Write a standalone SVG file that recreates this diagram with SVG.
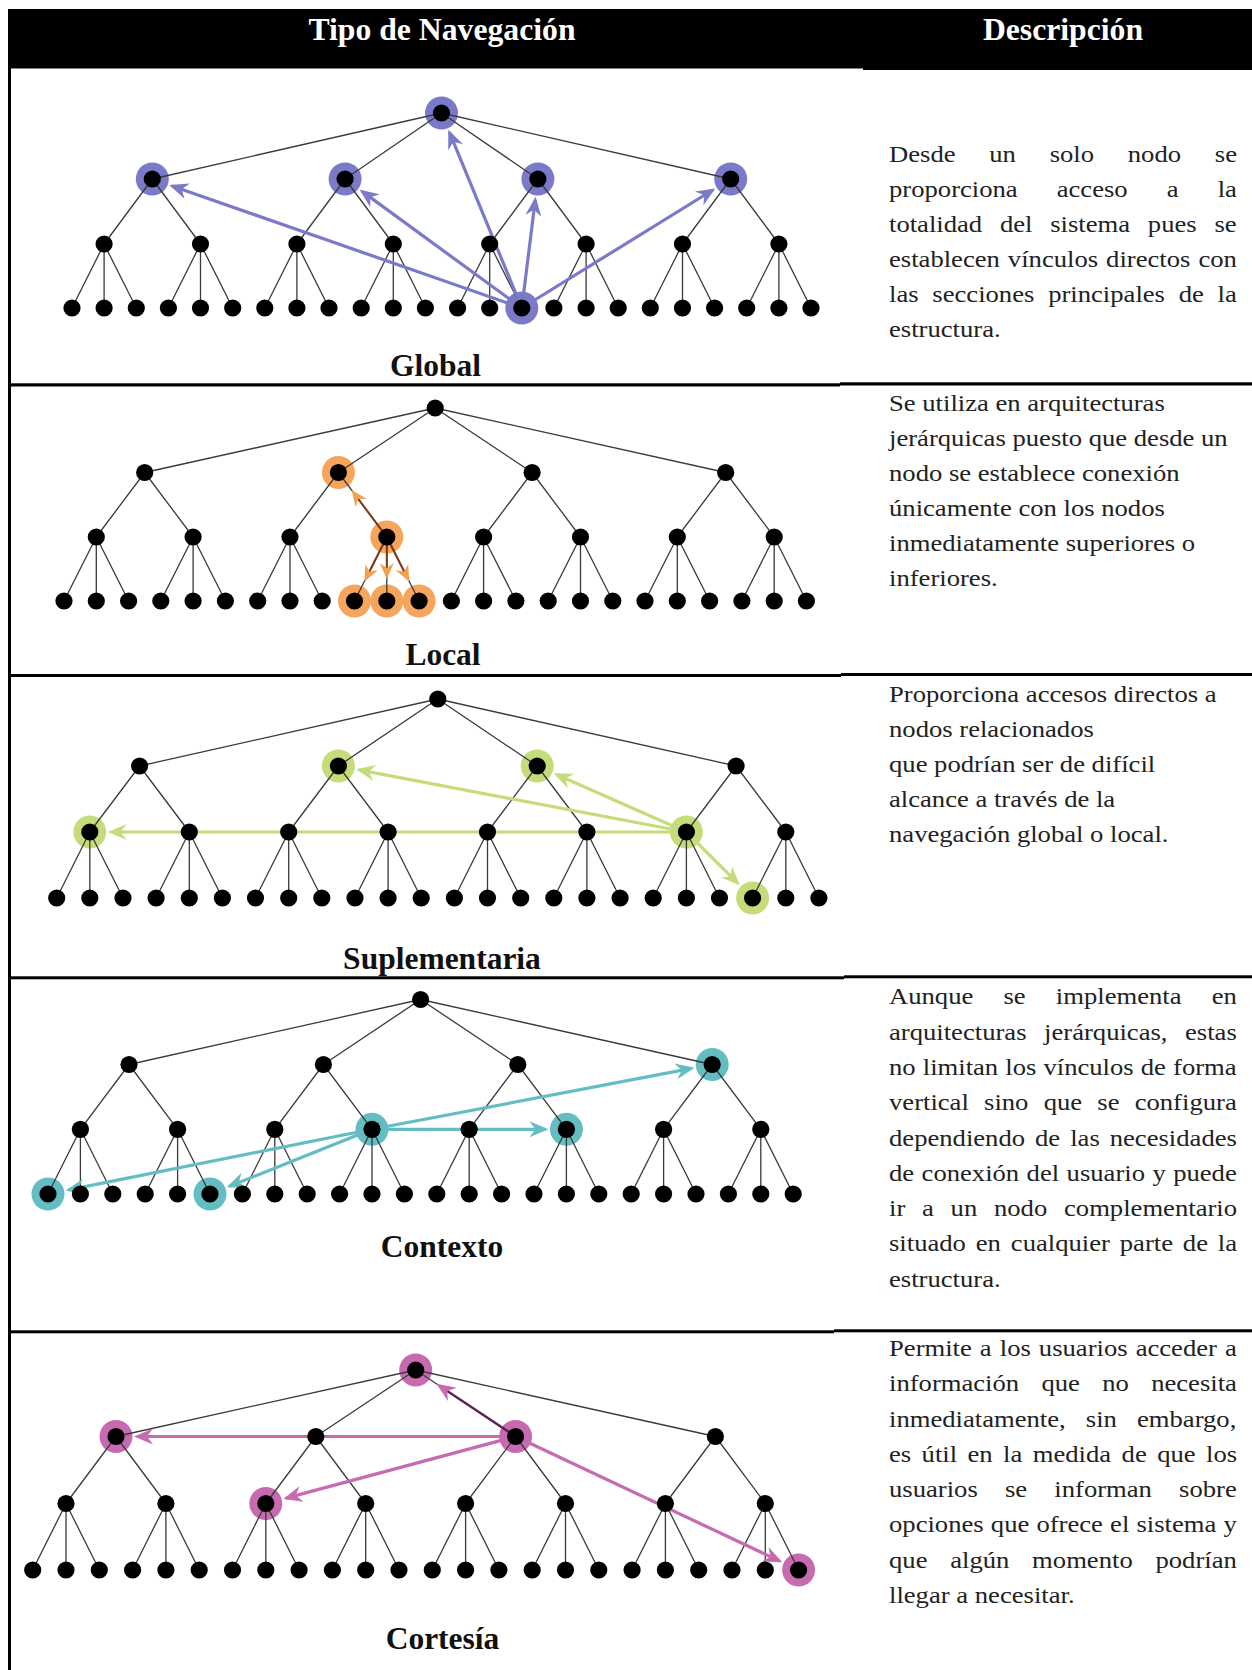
<svg xmlns="http://www.w3.org/2000/svg" xmlns:xlink="http://www.w3.org/1999/xlink" width="1252" height="1670" viewBox="0 0 1252 1670">
<style>
.bg{fill:#fff}
.rule{fill:#000}
.hd{font-family:"Liberation Serif","Times New Roman",serif;font-weight:bold;font-size:31.7px;fill:#fff;text-anchor:middle}
.lbl{font-family:"Liberation Serif","Times New Roman",serif;font-weight:bold;font-size:31.5px;fill:#111;text-anchor:middle}
.desc text{font-family:"Liberation Serif","Times New Roman",serif;font-size:24px;fill:#222}
.edges{fill:none;stroke:#3a3a3a;stroke-width:1.3;stroke-linejoin:round}
.lk{fill:none;stroke-width:3.2;stroke-linecap:butt}
.hb{fill:#7a7ac8}.sb{stroke:#7a7ac8}
.ho{fill:#f6a55c}.so{stroke:#7a3b14;stroke-width:2}
.hs{fill:#c5dc7a}.ss{stroke:#c5dc7a}
.hc{fill:#63bdc3}.sc{stroke:#63bdc3}
.hm{fill:#c76bb0}.sm{stroke:#c76bb0}
.smd{stroke:#5e2452;stroke-width:2.4}
</style>
<defs>
<circle id="d" r="8.6" fill="#000"/>
<marker id="mb" viewBox="-18 -9 22 18" refX="0" refY="0" markerWidth="22" markerHeight="18" markerUnits="userSpaceOnUse" orient="auto"><path d="M3,0 L-16,-8 L-10,0 L-16,8 Z" fill="#7a7ac8"/></marker>
<marker id="mo" viewBox="-15 -8 19 16" refX="0" refY="0" markerWidth="19" markerHeight="16" markerUnits="userSpaceOnUse" orient="auto"><path d="M3,0 L-13,-7 L-8,0 L-13,7 Z" fill="#f3a04f"/></marker>
<marker id="ms" viewBox="-18 -9 22 18" refX="0" refY="0" markerWidth="22" markerHeight="18" markerUnits="userSpaceOnUse" orient="auto"><path d="M3,0 L-16,-8 L-10,0 L-16,8 Z" fill="#c5dc7a"/></marker>
<marker id="mc" viewBox="-18 -9 22 18" refX="0" refY="0" markerWidth="22" markerHeight="18" markerUnits="userSpaceOnUse" orient="auto"><path d="M3,0 L-16,-8 L-10,0 L-16,8 Z" fill="#63bdc3"/></marker>
<marker id="mm" viewBox="-18 -9 22 18" refX="0" refY="0" markerWidth="22" markerHeight="18" markerUnits="userSpaceOnUse" orient="auto"><path d="M3,0 L-16,-8 L-10,0 L-16,8 Z" fill="#c76bb0"/></marker>
</defs>
<rect class="bg" x="0" y="0" width="1252" height="1670"/>

<g id="table">
<rect class="rule" x="8" y="9" width="1244" height="59.5"/>
<rect class="rule" x="863" y="67" width="389" height="3"/>
<rect class="rule" x="8" y="9" width="3" height="1661"/>
<rect class="rule" x="8" y="383.3" width="832" height="3.2"/>
<rect class="rule" x="840" y="382.3" width="412" height="3.2"/>
<rect class="rule" x="8" y="674" width="833" height="3"/>
<rect class="rule" x="841" y="673" width="411" height="3"/>
<rect class="rule" x="8" y="976.3" width="836" height="3"/>
<rect class="rule" x="844" y="975.3" width="408" height="3"/>
<rect class="rule" x="8" y="1330.3" width="826" height="3"/>
<rect class="rule" x="834" y="1329.3" width="418" height="3"/>
<text class="hd" x="442" y="39.5">Tipo de Navegación</text>
<text class="hd" x="1063" y="39.5">Descripción</text>
</g>

<!-- GLOBAL -->
<g id="row-global">
<g id="global-halos">
<circle class="hb" cx="441.5" cy="113" r="16.5"/>
<circle class="hb" cx="152.3" cy="179" r="16.5"/>
<circle class="hb" cx="345.1" cy="179" r="16.5"/>
<circle class="hb" cx="537.9" cy="179" r="16.5"/>
<circle class="hb" cx="730.7" cy="179" r="16.5"/>
<circle class="hb" cx="521.8" cy="308" r="16.5"/>
</g>
<path class="edges" d="M152.3,179 L441.5,113 L345.1,179 M537.9,179 L441.5,113 L730.7,179 M104.1,244 L152.3,179 L200.5,244 M296.9,244 L345.1,179 L393.3,244 M489.7,244 L537.9,179 L586.1,244 M682.5,244 L730.7,179 L778.9,244 M72,308 L104.1,244 L136.3,308 M104.1,244 V308 M168.4,308 L200.5,244 L232.7,308 M200.5,244 V308 M264.8,308 L296.9,244 L329,308 M296.9,244 V308 M361.2,308 L393.3,244 L425.4,308 M393.3,244 V308 M457.6,308 L489.7,244 L521.8,308 M489.7,244 V308 M553.9,308 L586.1,244 L618.2,308 M586.1,244 V308 M650.3,308 L682.5,244 L714.6,308 M682.5,244 V308 M746.7,308 L778.9,244 L811,308 M778.9,244 V308"/>
<g id="global-connectors">
<line class="lk sb" x1="521.8" y1="308" x2="449.5" y2="132.4" marker-end="url(#mb)"/>
<line class="lk sb" x1="521.8" y1="308" x2="172.1" y2="185.9" marker-end="url(#mb)"/>
<line class="lk sb" x1="521.8" y1="308" x2="362.1" y2="191.4" marker-end="url(#mb)"/>
<line class="lk sb" x1="521.8" y1="308" x2="535.3" y2="199.8" marker-end="url(#mb)"/>
<line class="lk sb" x1="521.8" y1="308" x2="712.8" y2="190" marker-end="url(#mb)"/>
</g>
<g id="global-nodes">
<use id="g-r" href="#d" x="441.5" y="113"/>
<use href="#d" x="152.3" y="179"/><use href="#d" x="345.1" y="179"/><use href="#d" x="537.9" y="179"/><use href="#d" x="730.7" y="179"/>
<use href="#d" x="104.1" y="244"/><use href="#d" x="200.5" y="244"/><use href="#d" x="296.9" y="244"/><use href="#d" x="393.3" y="244"/><use href="#d" x="489.7" y="244"/><use href="#d" x="586.1" y="244"/><use href="#d" x="682.5" y="244"/><use href="#d" x="778.9" y="244"/>
<use href="#d" x="72" y="308"/><use href="#d" x="104.1" y="308"/><use href="#d" x="136.3" y="308"/><use href="#d" x="168.4" y="308"/><use href="#d" x="200.5" y="308"/><use href="#d" x="232.7" y="308"/><use href="#d" x="264.8" y="308"/><use href="#d" x="296.9" y="308"/><use href="#d" x="329" y="308"/><use href="#d" x="361.2" y="308"/><use href="#d" x="393.3" y="308"/><use href="#d" x="425.4" y="308"/><use href="#d" x="457.6" y="308"/><use href="#d" x="489.7" y="308"/><use href="#d" x="521.8" y="308"/><use href="#d" x="553.9" y="308"/><use href="#d" x="586.1" y="308"/><use href="#d" x="618.2" y="308"/><use href="#d" x="650.3" y="308"/><use href="#d" x="682.5" y="308"/><use href="#d" x="714.6" y="308"/><use href="#d" x="746.7" y="308"/><use href="#d" x="778.9" y="308"/><use href="#d" x="811" y="308"/>
</g>
<text class="lbl" x="435.5" y="376">Global</text>
<g class="desc" transform="translate(889 0) scale(1.11 1)">
<text y="161.6" word-spacing="24.4">Desde un solo nodo se</text>
<text y="196.7" word-spacing="29.2">proporciona acceso a la</text>
<text y="231.8" word-spacing="10">totalidad del sistema pues se</text>
<text y="266.9" word-spacing="1.2">establecen vínculos directos con</text>
<text y="302" word-spacing="6.4">las secciones principales de la</text>
<text y="337.1">estructura.</text>
</g>
</g>

<!-- LOCAL -->
<g id="row-local">
<g id="local-halos">
<circle class="ho" cx="338.4" cy="472.5" r="16.5"/>
<circle class="ho" cx="386.8" cy="537" r="16.5"/>
<circle class="ho" cx="354.5" cy="601" r="16.5"/>
<circle class="ho" cx="386.8" cy="601" r="16.5"/>
<circle class="ho" cx="419.1" cy="601" r="16.5"/>
</g>
<path class="edges" d="M144.7,472.5 L435.2,408 L338.4,472.5 M532.1,472.5 L435.2,408 L725.7,472.5 M96.3,537 L144.7,472.5 L193.1,537 M290,537 L338.4,472.5 L386.8,537 M483.6,537 L532.1,472.5 L580.5,537 M677.3,537 L725.7,472.5 L774.2,537 M64,601 L96.3,537 L128.6,601 M96.3,537 V601 M160.8,601 L193.1,537 L225.4,601 M193.1,537 V601 M257.7,601 L290,537 L322.2,601 M290,537 V601 M354.5,601 L386.8,537 L419.1,601 M386.8,537 V601 M451.4,601 L483.6,537 L515.9,601 M483.6,537 V601 M548.2,601 L580.5,537 L612.8,601 M580.5,537 V601 M645,601 L677.3,537 L709.6,601 M677.3,537 V601 M741.9,601 L774.2,537 L806.4,601 M774.2,537 V601"/>
<g id="local-connectors">
<line class="lk so" x1="386.8" y1="537" x2="353.4" y2="492.5" marker-end="url(#mo)"/>
<line class="lk so" x1="386.8" y1="537" x2="365.8" y2="578.7" marker-end="url(#mo)"/>
<line class="lk so" x1="386.8" y1="537" x2="386.8" y2="576" marker-end="url(#mo)"/>
<line class="lk so" x1="386.8" y1="537" x2="407.8" y2="578.7" marker-end="url(#mo)"/>
</g>
<g id="local-nodes">
<use href="#d" x="435.2" y="408"/>
<use href="#d" x="144.7" y="472.5"/><use href="#d" x="338.4" y="472.5"/><use href="#d" x="532.1" y="472.5"/><use href="#d" x="725.7" y="472.5"/>
<use href="#d" x="96.3" y="537"/><use href="#d" x="193.1" y="537"/><use href="#d" x="290" y="537"/><use href="#d" x="386.8" y="537"/><use href="#d" x="483.6" y="537"/><use href="#d" x="580.5" y="537"/><use href="#d" x="677.3" y="537"/><use href="#d" x="774.2" y="537"/>
<use href="#d" x="64" y="601"/><use href="#d" x="96.3" y="601"/><use href="#d" x="128.6" y="601"/><use href="#d" x="160.8" y="601"/><use href="#d" x="193.1" y="601"/><use href="#d" x="225.4" y="601"/><use href="#d" x="257.7" y="601"/><use href="#d" x="290" y="601"/><use href="#d" x="322.2" y="601"/><use href="#d" x="354.5" y="601"/><use href="#d" x="386.8" y="601"/><use href="#d" x="419.1" y="601"/><use href="#d" x="451.4" y="601"/><use href="#d" x="483.6" y="601"/><use href="#d" x="515.9" y="601"/><use href="#d" x="548.2" y="601"/><use href="#d" x="580.5" y="601"/><use href="#d" x="612.8" y="601"/><use href="#d" x="645" y="601"/><use href="#d" x="677.3" y="601"/><use href="#d" x="709.6" y="601"/><use href="#d" x="741.9" y="601"/><use href="#d" x="774.2" y="601"/><use href="#d" x="806.4" y="601"/>
</g>
<text class="lbl" x="443" y="665">Local</text>
<g class="desc" transform="translate(889 0) scale(1.11 1)">
<text y="411">Se utiliza en arquitecturas</text>
<text y="446.1">jerárquicas puesto que desde un</text>
<text y="481.2">nodo se establece conexión</text>
<text y="516.3">únicamente con los nodos</text>
<text y="551.4">inmediatamente superiores o</text>
<text y="586.5">inferiores.</text>
</g>
</g>

<!-- SUPLEMENTARIA -->
<g id="row-suplementaria">
<g id="supl-halos">
<circle class="hs" cx="338.4" cy="766" r="16.5"/>
<circle class="hs" cx="537.2" cy="766" r="16.5"/>
<circle class="hs" cx="89.8" cy="832" r="16.5"/>
<circle class="hs" cx="686.4" cy="832" r="16.5"/>
<circle class="hs" cx="752.6" cy="898" r="16.5"/>
</g>
<path class="edges" d="M139.6,766 L437.8,699 L338.4,766 M537.2,766 L437.8,699 L736.1,766 M89.8,832 L139.6,766 L189.3,832 M288.7,832 L338.4,766 L388.1,832 M487.5,832 L537.2,766 L586.9,832 M686.4,832 L736.1,766 L785.8,832 M56.7,898 L89.8,832 L123,898 M89.8,832 V898 M156.1,898 L189.3,832 L222.4,898 M189.3,832 V898 M255.5,898 L288.7,832 L321.8,898 M288.7,832 V898 M355,898 L388.1,832 L421.2,898 M388.1,832 V898 M454.4,898 L487.5,832 L520.7,898 M487.5,832 V898 M553.8,898 L586.9,832 L620.1,898 M586.9,832 V898 M653.2,898 L686.4,832 L719.5,898 M686.4,832 V898 M752.6,898 L785.8,832 L818.9,898 M785.8,832 V898"/>
<g id="supl-connectors">
<line class="lk ss" x1="686.4" y1="832" x2="359" y2="769.9" marker-end="url(#ms)"/>
<line class="lk ss" x1="686.4" y1="832" x2="556.4" y2="774.5" marker-end="url(#ms)"/>
<line class="lk ss" x1="686.4" y1="832" x2="110.8" y2="832" marker-end="url(#ms)"/>
<line class="lk ss" x1="686.4" y1="832" x2="737.7" y2="883.2" marker-end="url(#ms)"/>
</g>
<g id="supl-nodes">
<use href="#d" x="437.8" y="699"/>
<use href="#d" x="139.6" y="766"/><use href="#d" x="338.4" y="766"/><use href="#d" x="537.2" y="766"/><use href="#d" x="736.1" y="766"/>
<use href="#d" x="89.8" y="832"/><use href="#d" x="189.3" y="832"/><use href="#d" x="288.7" y="832"/><use href="#d" x="388.1" y="832"/><use href="#d" x="487.5" y="832"/><use href="#d" x="586.9" y="832"/><use href="#d" x="686.4" y="832"/><use href="#d" x="785.8" y="832"/>
<use href="#d" x="56.7" y="898"/><use href="#d" x="89.8" y="898"/><use href="#d" x="123" y="898"/><use href="#d" x="156.1" y="898"/><use href="#d" x="189.3" y="898"/><use href="#d" x="222.4" y="898"/><use href="#d" x="255.5" y="898"/><use href="#d" x="288.7" y="898"/><use href="#d" x="321.8" y="898"/><use href="#d" x="355" y="898"/><use href="#d" x="388.1" y="898"/><use href="#d" x="421.2" y="898"/><use href="#d" x="454.4" y="898"/><use href="#d" x="487.5" y="898"/><use href="#d" x="520.7" y="898"/><use href="#d" x="553.8" y="898"/><use href="#d" x="586.9" y="898"/><use href="#d" x="620.1" y="898"/><use href="#d" x="653.2" y="898"/><use href="#d" x="686.4" y="898"/><use href="#d" x="719.5" y="898"/><use href="#d" x="752.6" y="898"/><use href="#d" x="785.8" y="898"/><use href="#d" x="818.9" y="898"/>
</g>
<text class="lbl" x="442" y="969">Suplementaria</text>
<g class="desc" transform="translate(889 0) scale(1.11 1)">
<text y="702">Proporciona accesos directos a</text>
<text y="737">nodos relacionados</text>
<text y="772.1">que podrían ser de difícil</text>
<text y="807.2">alcance a través de la</text>
<text y="842.3">navegación global o local.</text>
</g>
</g>

<!-- CONTEXTO -->
<g id="row-contexto">
<g id="ctx-halos">
<circle class="hc" cx="712.2" cy="1064.5" r="16.5"/>
<circle class="hc" cx="372" cy="1129.3" r="16.5"/>
<circle class="hc" cx="566.4" cy="1129.3" r="16.5"/>
<circle class="hc" cx="48" cy="1194" r="16.5"/>
<circle class="hc" cx="210" cy="1194" r="16.5"/>
</g>
<path class="edges" d="M129,1064.5 L420.6,999.5 L323.4,1064.5 M517.8,1064.5 L420.6,999.5 L712.2,1064.5 M80.4,1129.3 L129,1064.5 L177.6,1129.3 M274.8,1129.3 L323.4,1064.5 L372,1129.3 M469.2,1129.3 L517.8,1064.5 L566.4,1129.3 M663.6,1129.3 L712.2,1064.5 L760.8,1129.3 M48,1194 L80.4,1129.3 L112.8,1194 M80.4,1129.3 V1194 M145.2,1194 L177.6,1129.3 L210,1194 M177.6,1129.3 V1194 M242.4,1194 L274.8,1129.3 L307.2,1194 M274.8,1129.3 V1194 M339.6,1194 L372,1129.3 L404.4,1194 M372,1129.3 V1194 M436.8,1194 L469.2,1129.3 L501.6,1194 M469.2,1129.3 V1194 M534,1194 L566.4,1129.3 L598.8,1194 M566.4,1129.3 V1194 M631.2,1194 L663.6,1129.3 L696,1194 M663.6,1129.3 V1194 M728.4,1194 L760.8,1129.3 L793.2,1194 M760.8,1129.3 V1194"/>
<g id="ctx-connectors">
<line class="lk sc" x1="372" y1="1129.3" x2="691.6" y2="1068.4" marker-end="url(#mc)"/>
<line class="lk sc" x1="372" y1="1129.3" x2="545.4" y2="1129.3" marker-end="url(#mc)"/>
<line class="lk sc" x1="372" y1="1129.3" x2="68.6" y2="1189.9" marker-end="url(#mc)"/>
<line class="lk sc" x1="372" y1="1129.3" x2="229.5" y2="1186.2" marker-end="url(#mc)"/>
</g>
<g id="ctx-nodes">
<use href="#d" x="420.6" y="999.5"/>
<use href="#d" x="129" y="1064.5"/><use href="#d" x="323.4" y="1064.5"/><use href="#d" x="517.8" y="1064.5"/><use href="#d" x="712.2" y="1064.5"/>
<use href="#d" x="80.4" y="1129.3"/><use href="#d" x="177.6" y="1129.3"/><use href="#d" x="274.8" y="1129.3"/><use href="#d" x="372" y="1129.3"/><use href="#d" x="469.2" y="1129.3"/><use href="#d" x="566.4" y="1129.3"/><use href="#d" x="663.6" y="1129.3"/><use href="#d" x="760.8" y="1129.3"/>
<use href="#d" x="48" y="1194"/><use href="#d" x="80.4" y="1194"/><use href="#d" x="112.8" y="1194"/><use href="#d" x="145.2" y="1194"/><use href="#d" x="177.6" y="1194"/><use href="#d" x="210" y="1194"/><use href="#d" x="242.4" y="1194"/><use href="#d" x="274.8" y="1194"/><use href="#d" x="307.2" y="1194"/><use href="#d" x="339.6" y="1194"/><use href="#d" x="372" y="1194"/><use href="#d" x="404.4" y="1194"/><use href="#d" x="436.8" y="1194"/><use href="#d" x="469.2" y="1194"/><use href="#d" x="501.6" y="1194"/><use href="#d" x="534" y="1194"/><use href="#d" x="566.4" y="1194"/><use href="#d" x="598.8" y="1194"/><use href="#d" x="631.2" y="1194"/><use href="#d" x="663.6" y="1194"/><use href="#d" x="696" y="1194"/><use href="#d" x="728.4" y="1194"/><use href="#d" x="760.8" y="1194"/><use href="#d" x="793.2" y="1194"/>
</g>
<text class="lbl" x="442" y="1257">Contexto</text>
<g class="desc" transform="translate(889 0) scale(1.11 1)">
<text y="1004.4" word-spacing="21.2">Aunque se implementa en</text>
<text y="1039.7" word-spacing="9.8">arquitecturas jerárquicas, estas</text>
<text y="1075" word-spacing="0.4">no limitan los vínculos de forma</text>
<text y="1110.3" word-spacing="7.7">vertical sino que se configura</text>
<text y="1145.6" word-spacing="3">dependiendo de las necesidades</text>
<text y="1180.9" word-spacing="0.7">de conexión del usuario y puede</text>
<text y="1216.2" word-spacing="9.1">ir a un nodo complementario</text>
<text y="1251.5" word-spacing="2.9">situado en cualquier parte de la</text>
<text y="1286.8">estructura.</text>
</g>
</g>

<!-- CORTESIA -->
<g id="row-cortesia">
<g id="cort-halos">
<circle class="hm" cx="415.7" cy="1370" r="16.5"/>
<circle class="hm" cx="116" cy="1436.5" r="16.5"/>
<circle class="hm" cx="515.6" cy="1436.5" r="16.5"/>
<circle class="hm" cx="265.8" cy="1503.5" r="16.5"/>
<circle class="hm" cx="798.6" cy="1570" r="16.5"/>
</g>
<path class="edges" d="M116,1436.5 L415.7,1370 L315.8,1436.5 M515.6,1436.5 L415.7,1370 L715.4,1436.5 M66,1503.5 L116,1436.5 L165.9,1503.5 M265.8,1503.5 L315.8,1436.5 L365.7,1503.5 M465.6,1503.5 L515.6,1436.5 L565.5,1503.5 M665.4,1503.5 L715.4,1436.5 L765.3,1503.5 M32.7,1570 L66,1503.5 L99.3,1570 M66,1503.5 V1570 M132.6,1570 L165.9,1503.5 L199.2,1570 M165.9,1503.5 V1570 M232.5,1570 L265.8,1503.5 L299.1,1570 M265.8,1503.5 V1570 M332.4,1570 L365.7,1503.5 L399,1570 M365.7,1503.5 V1570 M432.3,1570 L465.6,1503.5 L498.9,1570 M465.6,1503.5 V1570 M532.2,1570 L565.5,1503.5 L598.8,1570 M565.5,1503.5 V1570 M632.1,1570 L665.4,1503.5 L698.7,1570 M665.4,1503.5 V1570 M732,1570 L765.3,1503.5 L798.6,1570 M765.3,1503.5 V1570"/>
<g id="cort-connectors">
<line class="lk smd" x1="515.6" y1="1436.5" x2="439" y2="1385.5" marker-end="url(#mm)"/>
<line class="lk sm" x1="515.6" y1="1436.5" x2="137" y2="1436.5" marker-end="url(#mm)"/>
<line class="lk sm" x1="515.6" y1="1436.5" x2="286.1" y2="1498.1" marker-end="url(#mm)"/>
<line class="lk sm" x1="515.6" y1="1436.5" x2="779.6" y2="1561" marker-end="url(#mm)"/>
</g>
<g id="cort-nodes">
<use href="#d" x="415.7" y="1370"/>
<use href="#d" x="116" y="1436.5"/><use href="#d" x="315.8" y="1436.5"/><use href="#d" x="515.6" y="1436.5"/><use href="#d" x="715.4" y="1436.5"/>
<use href="#d" x="66" y="1503.5"/><use href="#d" x="165.9" y="1503.5"/><use href="#d" x="265.8" y="1503.5"/><use href="#d" x="365.7" y="1503.5"/><use href="#d" x="465.6" y="1503.5"/><use href="#d" x="565.5" y="1503.5"/><use href="#d" x="665.4" y="1503.5"/><use href="#d" x="765.3" y="1503.5"/>
<use href="#d" x="32.7" y="1570"/><use href="#d" x="66" y="1570"/><use href="#d" x="99.3" y="1570"/><use href="#d" x="132.6" y="1570"/><use href="#d" x="165.9" y="1570"/><use href="#d" x="199.2" y="1570"/><use href="#d" x="232.5" y="1570"/><use href="#d" x="265.8" y="1570"/><use href="#d" x="299.1" y="1570"/><use href="#d" x="332.4" y="1570"/><use href="#d" x="365.7" y="1570"/><use href="#d" x="399" y="1570"/><use href="#d" x="432.3" y="1570"/><use href="#d" x="465.6" y="1570"/><use href="#d" x="498.9" y="1570"/><use href="#d" x="532.2" y="1570"/><use href="#d" x="565.5" y="1570"/><use href="#d" x="598.8" y="1570"/><use href="#d" x="632.1" y="1570"/><use href="#d" x="665.4" y="1570"/><use href="#d" x="698.7" y="1570"/><use href="#d" x="732" y="1570"/><use href="#d" x="765.3" y="1570"/><use href="#d" x="798.6" y="1570"/>
</g>
<text class="lbl" x="442.5" y="1648.5">Cortesía</text>
<g class="desc" transform="translate(889 0) scale(1.11 1)">
<text y="1356" word-spacing="1.25">Permite a los usuarios acceder a</text>
<text y="1391.3" word-spacing="14.1">información que no necesita</text>
<text y="1426.6" word-spacing="12.1">inmediatamente, sin embargo,</text>
<text y="1461.9" word-spacing="3.4">es útil en la medida de que los</text>
<text y="1497.2" word-spacing="18.5">usuarios se informan sobre</text>
<text y="1532.5" word-spacing="0.45">opciones que ofrece el sistema y</text>
<text y="1567.8" word-spacing="14.5">que algún momento podrían</text>
<text y="1603.1">llegar a necesitar.</text>
</g>
</g>
</svg>
